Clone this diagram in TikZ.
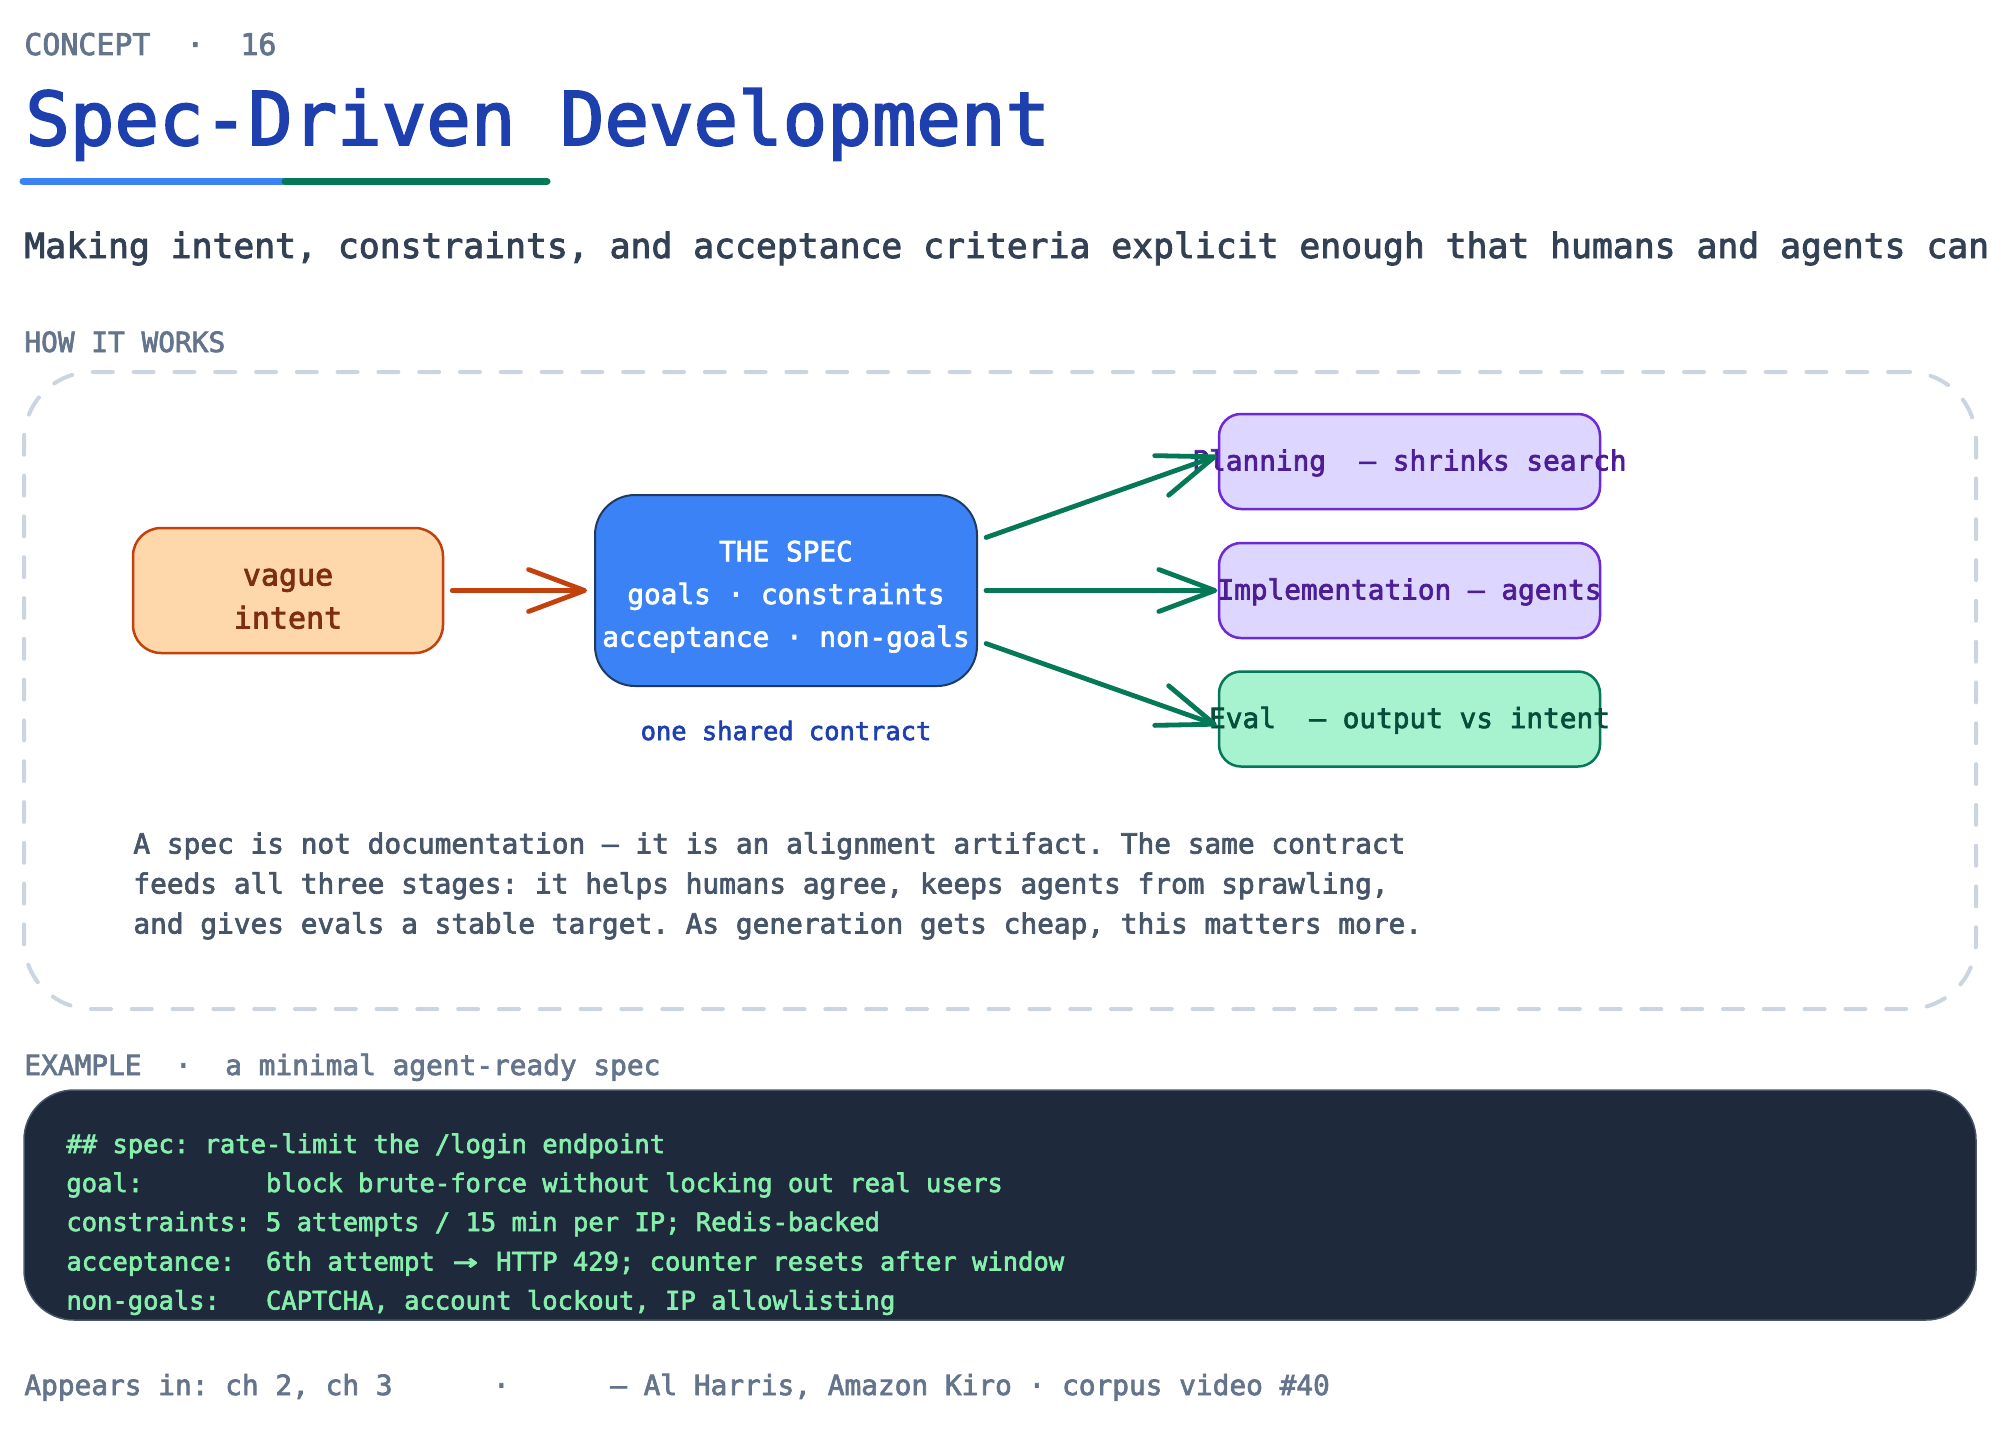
\documentclass[tikz,border=0pt]{standalone}
\usepackage{fontspec}
\setmainfont{DejaVu Sans Mono}[FakeBold=2.5]
\usetikzlibrary{arrows.meta}
\definecolor{slatelabel}{HTML}{64748B}
\definecolor{slatetext}{HTML}{475569}
\definecolor{slatesub}{HTML}{334155}
\definecolor{titleblue}{HTML}{1E40AF}
\definecolor{specblue}{HTML}{3B82F6}
\definecolor{specline}{HTML}{1E3A5F}
\definecolor{flowgreen}{HTML}{047857}
\definecolor{orangefill}{HTML}{FED7AA}
\definecolor{orangeline}{HTML}{C2410C}
\definecolor{orangetext}{HTML}{7C2D12}
\definecolor{purplefill}{HTML}{DDD6FE}
\definecolor{purpleline}{HTML}{6D28D9}
\definecolor{purpletext}{HTML}{4C1D95}
\definecolor{greenfill}{HTML}{A7F3D0}
\definecolor{greentext}{HTML}{064E3B}
\definecolor{dashgrey}{HTML}{CBD5E1}
\definecolor{codebg}{HTML}{1E293B}
\definecolor{codetext}{HTML}{86EFAC}
\newcommand{\fsz}[1]{\fontsize{#1}{#1}\selectfont\frenchspacing}
\newcommand{\spill}[1]{\makebox[0pt]{#1}}
\newcommand{\widearrow}{\makebox[15.3pt]{\scalebox{1.6}[1.1]{→}}}
\tikzset{
	txt/.style={anchor=base west, inner sep=0pt},
	label/.style={txt, text=slatelabel, font=\fsz{13.9pt}},
	para/.style={txt, text=slatetext, font=\fsz{13.9pt}},
	code/.style={txt, text=codetext, font=\fsz{12.75pt}},
	stage/.style={draw, rounded corners=11pt, line width=1.25pt, minimum width=190.5pt, minimum height=47.5pt,
		inner sep=0pt, text height=9pt, text depth=0pt, font=\fsz{13.87pt}},
	flow/.style={line width=2.4pt, line cap=round, line join=round, color=flowgreen,
		-{Straight Barb[length=28pt, width=21pt, round]}},
}

\begin{document}
\begin{tikzpicture}[x=0.5pt, y=-0.5pt]
	\useasboundingbox (0, 0) rectangle (2000, 1429);

	% heading
	\node[txt, text=slatelabel, font=\fsz{14.95pt}] (concept) at (24, 55) {CONCEPT~~·~~16};
	\node[txt, text=titleblue, font=\fsz{37pt}] (title) at (25, 145) {Spec-Driven Development};
	\coordinate (rulea) at (23, 181);
	\coordinate (ruleb) at (285, 181);
	\coordinate (rulec) at (547, 181);
	\draw[line width=3.5pt, line cap=round, color=specblue] (rulea) -- (ruleb);
	\draw[line width=3.5pt, line cap=round, color=flowgreen] (ruleb) -- (rulec);
	\node[txt, text=slatesub, font=\fsz{17.36pt}] (subtitle) at (24, 258) {Making intent, constraints, and acceptance criteria explicit enough that humans and agents can};

	% how it works
	\node[label] (howlabel) at (24, 352) {HOW IT WORKS};
	\node[draw=dashgrey, line width=2pt, line cap=round, rounded corners=34pt, dash pattern=on 10pt off 10.4pt,
		minimum width=976pt, minimum height=318.5pt] (panel) at (1000, 690.5) {};

	\node[draw=orangeline, fill=orangefill, rounded corners=14pt, line width=1.25pt, minimum width=155pt, minimum height=62.5pt,
		inner sep=0pt, align=center, text=orangetext, font=\fsz{15pt}] (vague) at (288, 590.5)
		{\rule{0pt}{16.7pt}vague\\[6.5pt]intent};
	\node[draw=specline, fill=specblue, rounded corners=20pt, line width=1pt, minimum width=191pt, minimum height=95.5pt,
		inner sep=0pt, align=center, text=white, font=\fsz{13.87pt}] (spec) at (786, 590.5)
		{\rule{0pt}{16.5pt}THE SPEC\\[7.5pt]goals · constraints\\[7.5pt]acceptance · non-goals};
	\node[inner sep=0pt, anchor=base, text=titleblue, font=\fsz{12.7pt}] (shared) at (786, 740) {one shared contract};

	\node[stage, draw=purpleline, fill=purplefill, text=purpletext] (plan) at (1409.5, 461.5) {\spill{Planning~~— shrinks search}};
	\node[stage, draw=purpleline, fill=purplefill, text=purpletext] (impl) at (1409.5, 590.5) {\spill{Implementation — agents}};
	\node[stage, draw=flowgreen, fill=greenfill, text=greentext] (eval) at (1409.5, 719) {\spill{Eval~~— output vs intent}};

	\draw[line width=2.4pt, line cap=round, line join=round, color=orangeline,
		-{Straight Barb[length=28pt, width=21pt, round]}, shorten <=4pt, shorten >=3.5pt] (vague.east) -- (spec.west);
	\draw[flow] ([shift={(8, -53)}]spec.east) -- ([shift={(-1, -5.5)}]plan.west);
	\draw[flow, shorten <=4pt, shorten >=0.25pt] (spec.east) -- (impl.west);
	\draw[flow] ([shift={(8, 53)}]spec.east) -- ([shift={(-1, 6)}]eval.west);

	\node[para] (line1) at (133, 853.5) {A spec is not documentation — it is an alignment artifact. The same contract};
	\node[para] (line2) at (133, 893.5) {feeds all three stages: it helps humans agree, keeps agents from sprawling,};
	\node[para] (line3) at (133, 933.5) {and gives evals a stable target. As generation gets cheap, this matters more.};

	% example
	\node[label] (exlabel) at (24, 1075) {EXAMPLE~~·~~a minimal agent-ready spec};
	\node[draw=slatetext, fill=codebg, rounded corners=25pt, line width=0.75pt, minimum width=976pt, minimum height=115pt] (codebox) at (1000, 1205) {};
	\node[code] (code1) at (66, 1153) {\#\# spec: rate-limit the /login endpoint};
	\node[code] (code2) at (66, 1192) {goal:~~~~~~~~block brute-force without locking out real users};
	\node[code] (code3) at (66, 1231) {constraints: 5 attempts / 15 min per IP; Redis-backed};
	\node[code] (code4) at (66, 1270.5) {acceptance:~~6th attempt \widearrow{} HTTP 429; counter resets after window};
	\node[code] (code5) at (66, 1309.5) {non-goals:~~~CAPTCHA, account lockout, IP allowlisting};

	\node[label] (footer) at (24, 1395) {Appears in: ch 2, ch 3~~~~~~·~~~~~~— Al Harris, Amazon Kiro · corpus video \#40};
\end{tikzpicture}
\end{document}
